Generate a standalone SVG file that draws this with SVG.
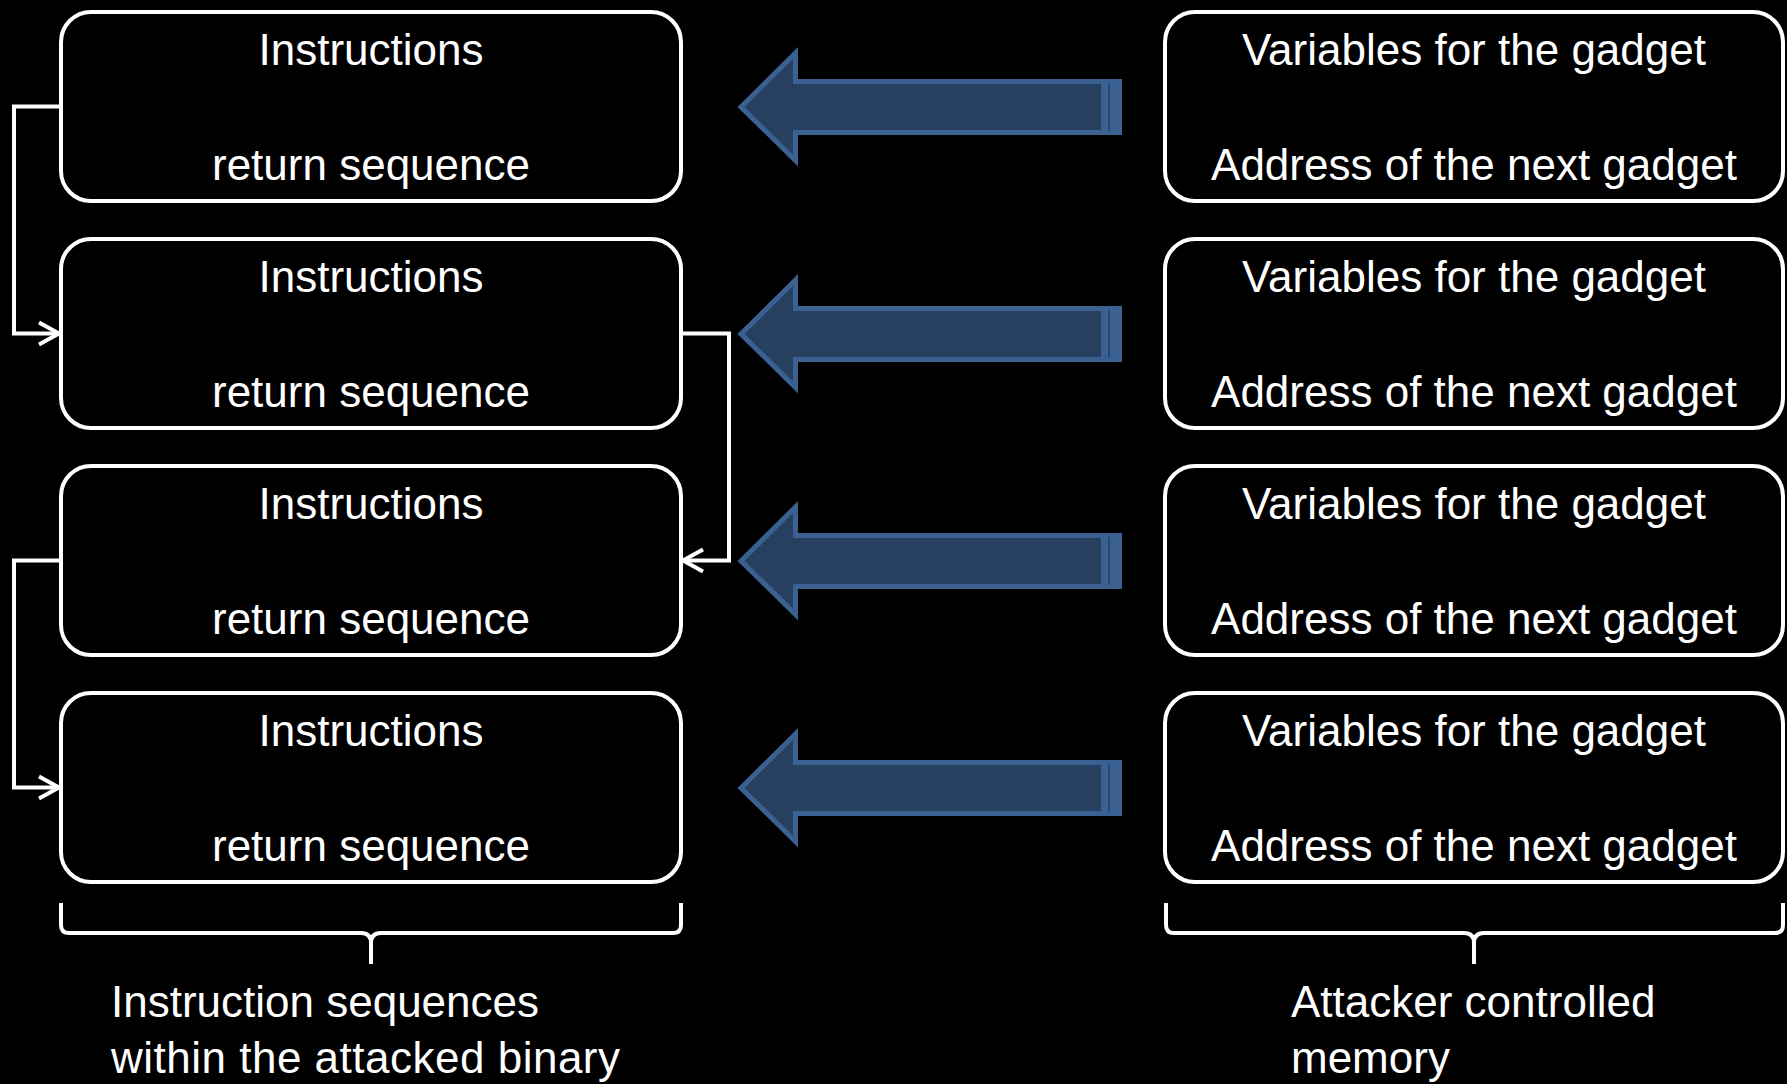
<svg xmlns="http://www.w3.org/2000/svg" width="1787" height="1084" viewBox="0 0 1787 1084">
<defs>
<style>
.box{fill:#000;stroke:#fff;stroke-width:4}
.t{font-family:"Liberation Sans",Arial,sans-serif;font-size:44px;fill:#fff}
.c{text-anchor:middle}
.conn{fill:none;stroke:#fff;stroke-width:4}
.brace{fill:none;stroke:#fff;stroke-width:4;stroke-linejoin:round}
.barrow{fill:#28405f;stroke:#3b6192;stroke-width:5;stroke-linejoin:miter}
.bend{fill:#3b6192}
.bline{stroke:#28405f;stroke-width:1.5}
</style>
<marker id="ah" markerUnits="userSpaceOnUse" markerWidth="30" markerHeight="30" viewBox="-24 -15 28 30" refX="0" refY="0" orient="auto">
<path d="M -20 -11 L 0 0 L -20 11" fill="none" stroke="#fff" stroke-width="4"/>
</marker>
<g id="bigarrow">
<path class="barrow" d="M 741 0 L 795.5 -54 L 795.5 -25.5 L 1119.5 -25.5 L 1119.5 25.5 L 795.5 25.5 L 795.5 53.5 Z"/>
<rect class="bend" x="1101" y="-28" width="21" height="56"/>
<line class="bline" x1="1109" y1="-24" x2="1109" y2="24"/>
</g>
</defs>
<rect x="0" y="0" width="1787" height="1084" fill="#000"/>

<g id="blue-arrows">
<use href="#bigarrow" y="107"/>
<use href="#bigarrow" y="334"/>
<use href="#bigarrow" y="561"/>
<use href="#bigarrow" y="788"/>
</g>

<g id="left1"><rect class="box" x="61" y="12" width="620" height="189" rx="30"/><text class="t c" x="371" y="65">Instructions</text><text class="t c" x="371" y="180">return sequence</text></g>
<g id="left2"><rect class="box" x="61" y="239" width="620" height="189" rx="30"/><text class="t c" x="371" y="292">Instructions</text><text class="t c" x="371" y="407">return sequence</text></g>
<g id="left3"><rect class="box" x="61" y="466" width="620" height="189" rx="30"/><text class="t c" x="371" y="519">Instructions</text><text class="t c" x="371" y="634">return sequence</text></g>
<g id="left4"><rect class="box" x="61" y="693" width="620" height="189" rx="30"/><text class="t c" x="371" y="746">Instructions</text><text class="t c" x="371" y="861">return sequence</text></g>

<g id="right1"><rect class="box" x="1165" y="12" width="618" height="189" rx="30"/><text class="t c" x="1474" y="65">Variables for the gadget</text><text class="t c" x="1474" y="180">Address of the next gadget</text></g>
<g id="right2"><rect class="box" x="1165" y="239" width="618" height="189" rx="30"/><text class="t c" x="1474" y="292">Variables for the gadget</text><text class="t c" x="1474" y="407">Address of the next gadget</text></g>
<g id="right3"><rect class="box" x="1165" y="466" width="618" height="189" rx="30"/><text class="t c" x="1474" y="519">Variables for the gadget</text><text class="t c" x="1474" y="634">Address of the next gadget</text></g>
<g id="right4"><rect class="box" x="1165" y="693" width="618" height="189" rx="30"/><text class="t c" x="1474" y="746">Variables for the gadget</text><text class="t c" x="1474" y="861">Address of the next gadget</text></g>

<g id="connectors">
<path class="conn" d="M 61 106.5 L 14 106.5 L 14 333.5 L 59 333.5" marker-end="url(#ah)"/>
<path class="conn" d="M 681 333.5 L 729 333.5 L 729 560.5 L 683 560.5" marker-end="url(#ah)"/>
<path class="conn" d="M 61 560.5 L 14 560.5 L 14 787.5 L 59 787.5" marker-end="url(#ah)"/>
</g>

<g id="brace-left">
<path class="brace" d="M 61 903 L 61 925 Q 61 933 69 933 L 361 933 Q 371 933 371 943 L 371 964 M 681 903 L 681 925 Q 681 933 673 933 L 381 933 Q 371 933 371 943"/>
<text class="t" x="111" y="1017">Instruction sequences</text>
<text class="t" x="111" y="1073" textLength="509" lengthAdjust="spacing">within the attacked binary</text>
</g>
<g id="brace-right">
<path class="brace" d="M 1166 903 L 1166 925 Q 1166 933 1174 933 L 1464 933 Q 1474 933 1474 943 L 1474 964 M 1783 903 L 1783 925 Q 1783 933 1775 933 L 1484 933 Q 1474 933 1474 943"/>
<text class="t" x="1291" y="1017">Attacker controlled</text>
<text class="t" x="1291" y="1073">memory</text>
</g>
</svg>
